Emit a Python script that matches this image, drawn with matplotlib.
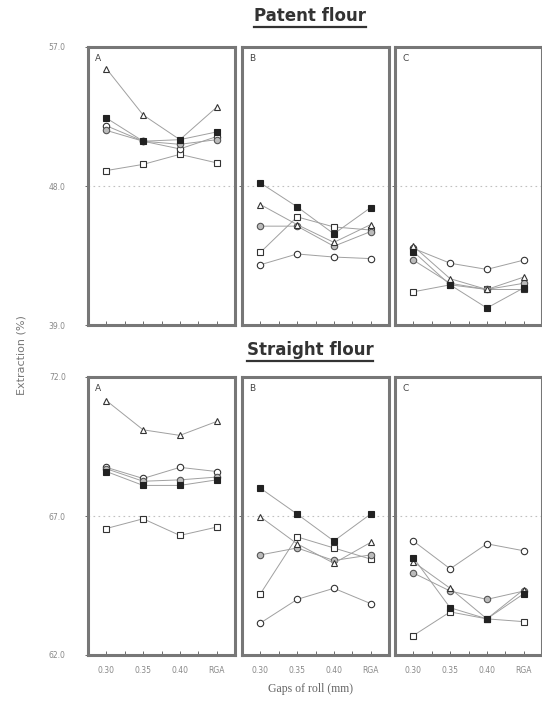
import matplotlib.pyplot as plt
from matplotlib.lines import Line2D
from matplotlib.ticker import FixedLocator

gaps = ['0.30', '0.35', '0.40', 'RGA']
panels = ['A', 'B', 'C']

# Patent flour, extraction (%)
patent_A = {
    'tri':   [55.6, 52.6, 51.0, 53.1],
    'fsq':   [52.4, 50.9, 51.0, 51.5],
    'gcir':  [51.6, 50.9, 50.7, 51.0],
    'ocir':  [51.9, 50.9, 50.4, 51.2],
    'osq':   [49.0, 49.4, 50.05, 49.5],
}
patent_B = {
    'tri':   [46.8, 45.5, 44.35, 45.5],
    'fsq':   [48.2, 46.65, 44.9, 46.6],
    'gcir':  [45.4, 45.4, 44.1, 45.05],
    'ocir':  [42.9, 43.6, 43.4, 43.3],
    'osq':   [43.7, 46.0, 45.35, 45.15],
}
patent_C = {
    'tri':   [44.1, 42.0, 41.3, 42.1],
    'fsq':   [43.75, 41.6, 40.1, 41.4],
    'gcir':  [43.2, 41.7, 41.3, 41.7],
    'ocir':  [43.96, 43.0, 42.6, 43.2],
    'osq':   [41.15, 41.6, 41.3, 41.3],
}

# Straight flour, extraction (%)
straight_A = {
    'tri':   [71.15, 70.1, 69.9, 70.4],
    'fsq':   [68.6, 68.1, 68.1, 68.3],
    'gcir':  [68.7, 68.25, 68.3, 68.4],
    'ocir':  [68.75, 68.35, 68.75, 68.6],
    'osq':   [66.55, 66.9, 66.3, 66.6],
}
straight_B = {
    'tri':   [66.97, 66.0, 65.3, 66.05],
    'fsq':   [68.0, 67.07, 66.1, 67.07],
    'gcir':  [65.6, 65.85, 65.4, 65.6],
    'ocir':  [63.15, 64.0, 64.4, 63.85],
    'osq':   [64.2, 66.25, 65.85, 65.45],
}
straight_C = {
    'tri':   [65.35, 64.4, 63.3, 64.35],
    'fsq':   [65.5, 63.7, 63.3, 64.2],
    'gcir':  [64.95, 64.3, 64.0, 64.3],
    'ocir':  [66.1, 65.1, 66.0, 65.75],
    'osq':   [62.7, 63.55, 63.3, 63.2],
}

patent_ticks = [39.0, 48.0, 57.0]
straight_ticks = [62.0, 67.0, 72.0]

styles = {
    'tri':  dict(marker='^', mfc='white', mec='#333333'),
    'fsq':  dict(marker='s', mfc='#222222', mec='#222222'),
    'gcir': dict(marker='o', mfc='#bbbbbb', mec='#555555'),
    'ocir': dict(marker='o', mfc='white', mec='#333333'),
    'osq':  dict(marker='s', mfc='white', mec='#333333'),
}
order = ['osq', 'ocir', 'gcir', 'tri', 'fsq']


def draw_panel(ax, data, ticks, letter, show_ylabels, show_xlabels):
    x = [1, 2, 3, 4]
    for key in order:
        ax.plot(x, data[key], color='#a0a0a0', lw=0.7, ms=4.6, mew=0.8,
                zorder=3, **styles[key])
    ax.axhline(ticks[1], color='#c0c0c0', lw=0.8, ls=(0, (1.5, 3)), zorder=1)
    ax.set_xlim(0.5, 4.5)
    ax.set_ylim(ticks[0], ticks[2])
    for sp in ax.spines.values():
        sp.set_linewidth(2.2)
        sp.set_color('#777777')
    ax.xaxis.set_major_locator(FixedLocator(x))
    ax.xaxis.set_minor_locator(FixedLocator([1.5, 2.5, 3.5]))
    ax.tick_params(axis='x', which='both', direction='in', length=3,
                   width=0.6, color='#555555', labelsize=5.5,
                   labelcolor='#888888', pad=8)
    if show_xlabels:
        ax.set_xticklabels(gaps)
    else:
        ax.set_xticklabels([])
    if show_ylabels:
        ax.set_yticks(ticks)
        ax.set_yticklabels(['%.1f' % t for t in ticks])
        ax.tick_params(axis='y', length=2, width=0.6, labelsize=5.5,
                       labelcolor='#888888', pad=14, color='#555555')
    else:
        ax.set_yticks([ticks[1]])
        ax.set_yticklabels([])
        ax.tick_params(axis='y', length=2, width=0.6, color='#555555')
    ax.text(0.05, 0.975, letter, transform=ax.transAxes, fontsize=6.5,
            color='#444444', ha='left', va='top')


fig = plt.figure(figsize=(5.42, 7.15), dpi=100)
lefts = [88 / 542, 242 / 542, 395 / 542]
width = 147 / 542
height = 278 / 715
top_bottom = 1 - 325 / 715
low_bottom = 1 - 655 / 715

patent = [patent_A, patent_B, patent_C]
straight = [straight_A, straight_B, straight_C]
for i, letter in enumerate(panels):
    ax = fig.add_axes([lefts[i], top_bottom, width, height])
    draw_panel(ax, patent[i], patent_ticks, letter, i == 0, False)
    ax = fig.add_axes([lefts[i], low_bottom, width, height])
    draw_panel(ax, straight[i], straight_ticks, letter, i == 0, True)

titles = []
titles.append(fig.text(310 / 542, 1 - 16 / 715, 'Patent flour', ha='center',
                       va='center', fontsize=12, fontweight='bold', color='#333333'))
titles.append(fig.text(310 / 542, 1 - 350 / 715, 'Straight flour', ha='center',
                       va='center', fontsize=12, fontweight='bold', color='#333333'))

fig.text(22 / 542, 1 - 355 / 715, 'Extraction (%)', rotation=90, ha='center',
         va='center', fontsize=8, color='#777777')
fig.text(310 / 542, 1 - 689 / 715, 'Gaps of roll (mm)', ha='center', va='center',
         fontsize=8.5, family='Liberation Serif', color='#666666')

# underline the section titles
fig.canvas.draw()
renderer = fig.canvas.get_renderer()
for t in titles:
    bb = t.get_window_extent(renderer)
    y = (bb.y0 - 2) / fig.bbox.height
    fig.add_artist(Line2D([bb.x0 / fig.bbox.width, bb.x1 / fig.bbox.width], [y, y],
                          transform=fig.transFigure, color='#333333', lw=1.6))

fig.savefig('out.png', dpi=100)
